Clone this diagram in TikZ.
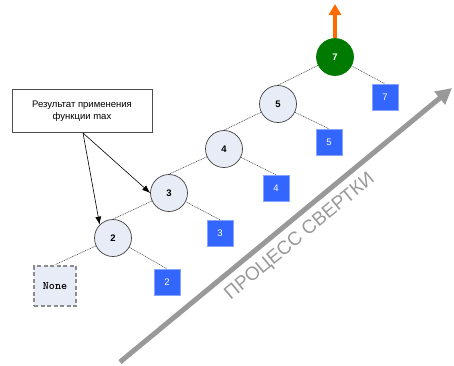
\documentclass[tikz,border=0pt]{standalone}
\usepackage{fontspec}
\setmainfont{Liberation Sans}
\usetikzlibrary{arrows.meta}
\definecolor{nodefill}{HTML}{E8ECF6}
\definecolor{leafblue}{HTML}{3366FF}
\definecolor{rootgreen}{HTML}{007A00}
\definecolor{flowgray}{HTML}{999999}
\definecolor{upcolor}{HTML}{FF6A00}
\tikzset{
  acc/.style={circle, draw=black!75, fill=nodefill, line width=0.7pt,
    minimum size=37pt, inner sep=0pt, font=\fontsize{9.5}{10}\selectfont\bfseries},
  rootacc/.style={acc, draw=rootgreen, fill=rootgreen, text=white},
  leaf/.style={rectangle, draw=leafblue!60, fill=leafblue, minimum size=26pt,
    inner sep=0pt, text=white, font=\fontsize{9.5}{10}\selectfont},
  nonebox/.style={rectangle, draw=black!45, fill=nodefill, line width=2.6pt,
    dash pattern=on 4pt off 2.5pt,
    minimum width=42pt, minimum height=40pt, inner sep=0pt,
    font=\ttfamily\fontsize{11.5}{12}\selectfont\bfseries},
  link/.style={draw=black!75, line width=0.55pt, dash pattern=on 1pt off 0.8pt},
  callout/.style={rectangle, draw=black!70, line width=0.7pt, fill=white,
    minimum width=140pt, minimum height=43pt, align=center,
    font=\fontsize{9.5}{12}\selectfont},
  pointer/.style={draw=black, line width=0.6pt, -{Latex[length=8pt,width=6pt]}}
}
\begin{document}
\begin{tikzpicture}[x=1pt,y=-1pt]
\useasboundingbox (0,0) rectangle (454,365);

% progress arrow of the fold
\coordinate (fs) at (120,362);
\coordinate (fe) at (452,88);
\draw[flowgray, line width=5pt, -{Triangle[length=16pt,width=16pt]}] (fs) -- (fe);
\node[text=flowgray, rotate=39.5, font=\fontsize{19}{20}\selectfont] (flowlabel)
  at (300,237) {ПРОЦЕСС СВЕРТКИ};

% accumulator chain
\node[rootacc] (a7) at (335,57) {7};
\node[acc] (a5) at (278,104) {5};
\node[acc] (a4) at (224,149) {4};
\node[acc] (a3) at (169,193) {3};
\node[acc] (a2) at (113,238) {2};
\node[nonebox] (n0) at (55,286) {None};

% list elements
\node[leaf] (e7) at (385,97) {7};
\node[leaf] (e5) at (329,142) {5};
\node[leaf] (e4) at (276,188) {4};
\node[leaf] (e3) at (220,233) {3};
\node[leaf] (e2) at (167,282) {2};

% links
\draw[link] (a7) -- (a5.north);
\draw[link] (a7) -- (e7.north);
\draw[link] (a5) -- (a4.north);
\draw[link] (a5) -- (e5.north);
\draw[link] (a4) -- (a3.north);
\draw[link] (a4) -- (e4.north);
\draw[link] (a3) -- (a2.north);
\draw[link] (a3) -- (e3.north);
\draw[link] (a2) -- (n0.north);
\draw[link] (a2) -- (e2.north);

% final result goes up
\coordinate (up) at (335,4);
\draw[upcolor, line width=3.5pt, -{Triangle[length=11pt,width=12pt]}] (a7.north) -- (up);

% callout
\node[callout] (note) at (82,111) {Результат применения\\функции max};
\coordinate (ptr) at (83,133);
\draw[pointer] (ptr) -- (a2.north west);
\draw[pointer] (ptr) -- (a3.west);
\end{tikzpicture}
\end{document}
